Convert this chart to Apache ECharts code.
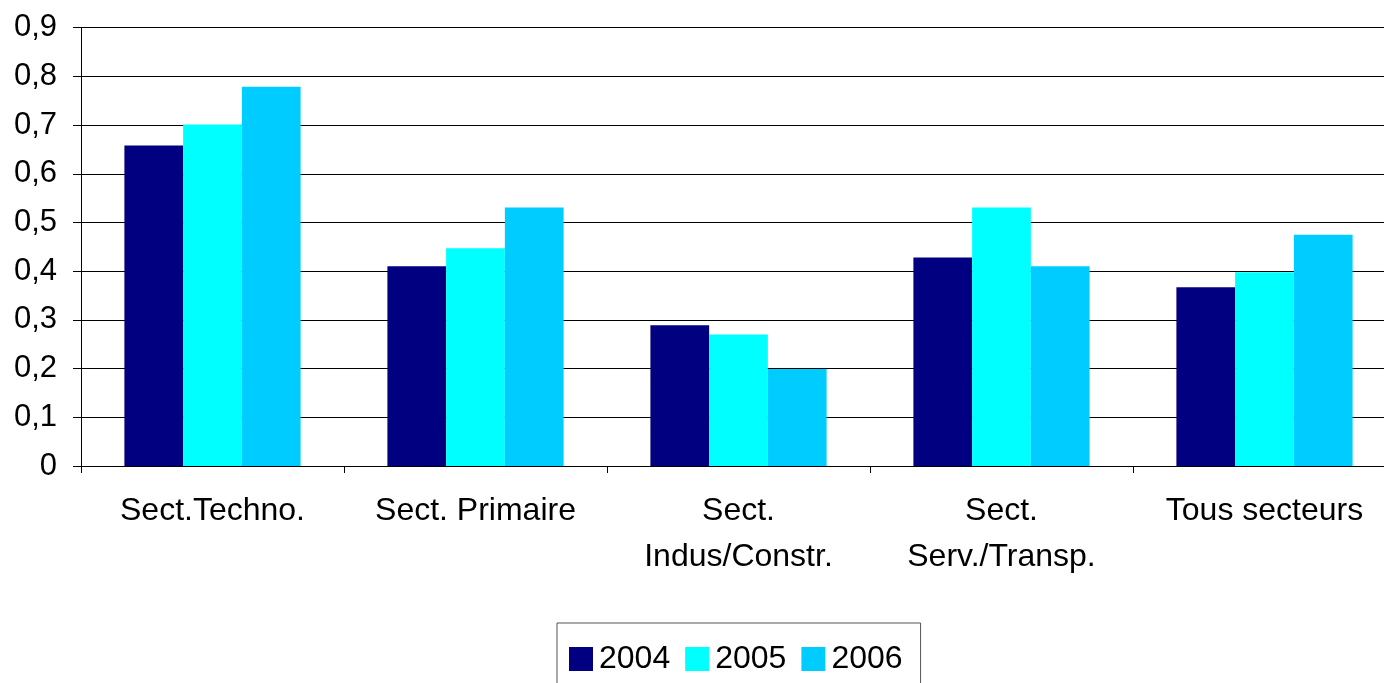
<!DOCTYPE html>
<html>
    <head>
        <meta charset="utf-8">
        <script src="https://cdn.jsdelivr.net/npm/echarts@6/dist/echarts.min.js"></script>
    </head>
    <body>
        <style>
            html, body, #main {
                width: 100%;
                height: 100%;
                margin: 0;
                background: #fff;
            }
        </style>
        <div id="main"></div>
        <script>
            var categories = ['Sect.Techno.', 'Sect. Primaire', 'Sect.\nIndus/Constr.', 'Sect.\nServ./Transp.', 'Tous secteurs'];
            var years = ['2004', '2005', '2006'];
            var values2004 = [0.658, 0.41, 0.289, 0.428, 0.367];
            var values2005 = [0.701, 0.447, 0.270, 0.531, 0.398];
            var values2006 = [0.779, 0.531, 0.199, 0.41, 0.475];
            var colors = ['#000080', '#00ffff', '#00ccff'];

            var font = 'Liberation Sans, Arial, sans-serif';
            var chart = echarts.init(document.getElementById('main'));

            function bar(name, data, color) {
                return {
                    name: name,
                    type: 'bar',
                    data: data,
                    barGap: 0,
                    barCategoryGap: '33%',
                    itemStyle: { color: color },
                    emphasis: { disabled: true }
                };
            }

            chart.setOption({
                animation: false,
                textStyle: { fontFamily: font },
                grid: {
                    left: 81,
                    top: 27.7,
                    width: 1315,
                    bottom: 217,
                    containLabel: false,
                    outerBoundsMode: 'none'
                },
                legend: {
                    data: years,
                    left: 557,
                    top: 623,
                    padding: [20, 18, 20, 12],
                    borderColor: '#555',
                    borderWidth: 1,
                    itemWidth: 24,
                    itemHeight: 24,
                    itemGap: 15,
                    icon: 'rect',
                    textStyle: {
                        fontSize: 32,
                        color: '#000',
                        fontFamily: font,
                        padding: [0, 0, 0, 1]
                    }
                },
                xAxis: {
                    type: 'category',
                    data: categories,
                    axisLine: { lineStyle: { color: '#000', width: 1 } },
                    axisTick: { show: true, length: 7, lineStyle: { color: '#000' } },
                    axisLabel: {
                        color: '#000',
                        fontSize: 32,
                        lineHeight: 46,
                        margin: 22,
                        interval: 0
                    }
                },
                yAxis: {
                    type: 'value',
                    min: 0,
                    max: 0.9,
                    interval: 0.1,
                    axisLine: { show: true, lineStyle: { color: '#000', width: 1 } },
                    axisTick: { show: true, length: 8, lineStyle: { color: '#000' } },
                    splitLine: { lineStyle: { color: '#000', width: 1 } },
                    axisLabel: {
                        color: '#000',
                        fontSize: 31,
                        margin: 24,
                        formatter: function (v) {
                            return v === 0 ? '0' : v.toFixed(1).replace('.', ',');
                        }
                    }
                },
                series: [
                    bar(years[0], values2004, colors[0]),
                    bar(years[1], values2005, colors[1]),
                    bar(years[2], values2006, colors[2])
                ]
            });
        </script>
    </body>
</html>
